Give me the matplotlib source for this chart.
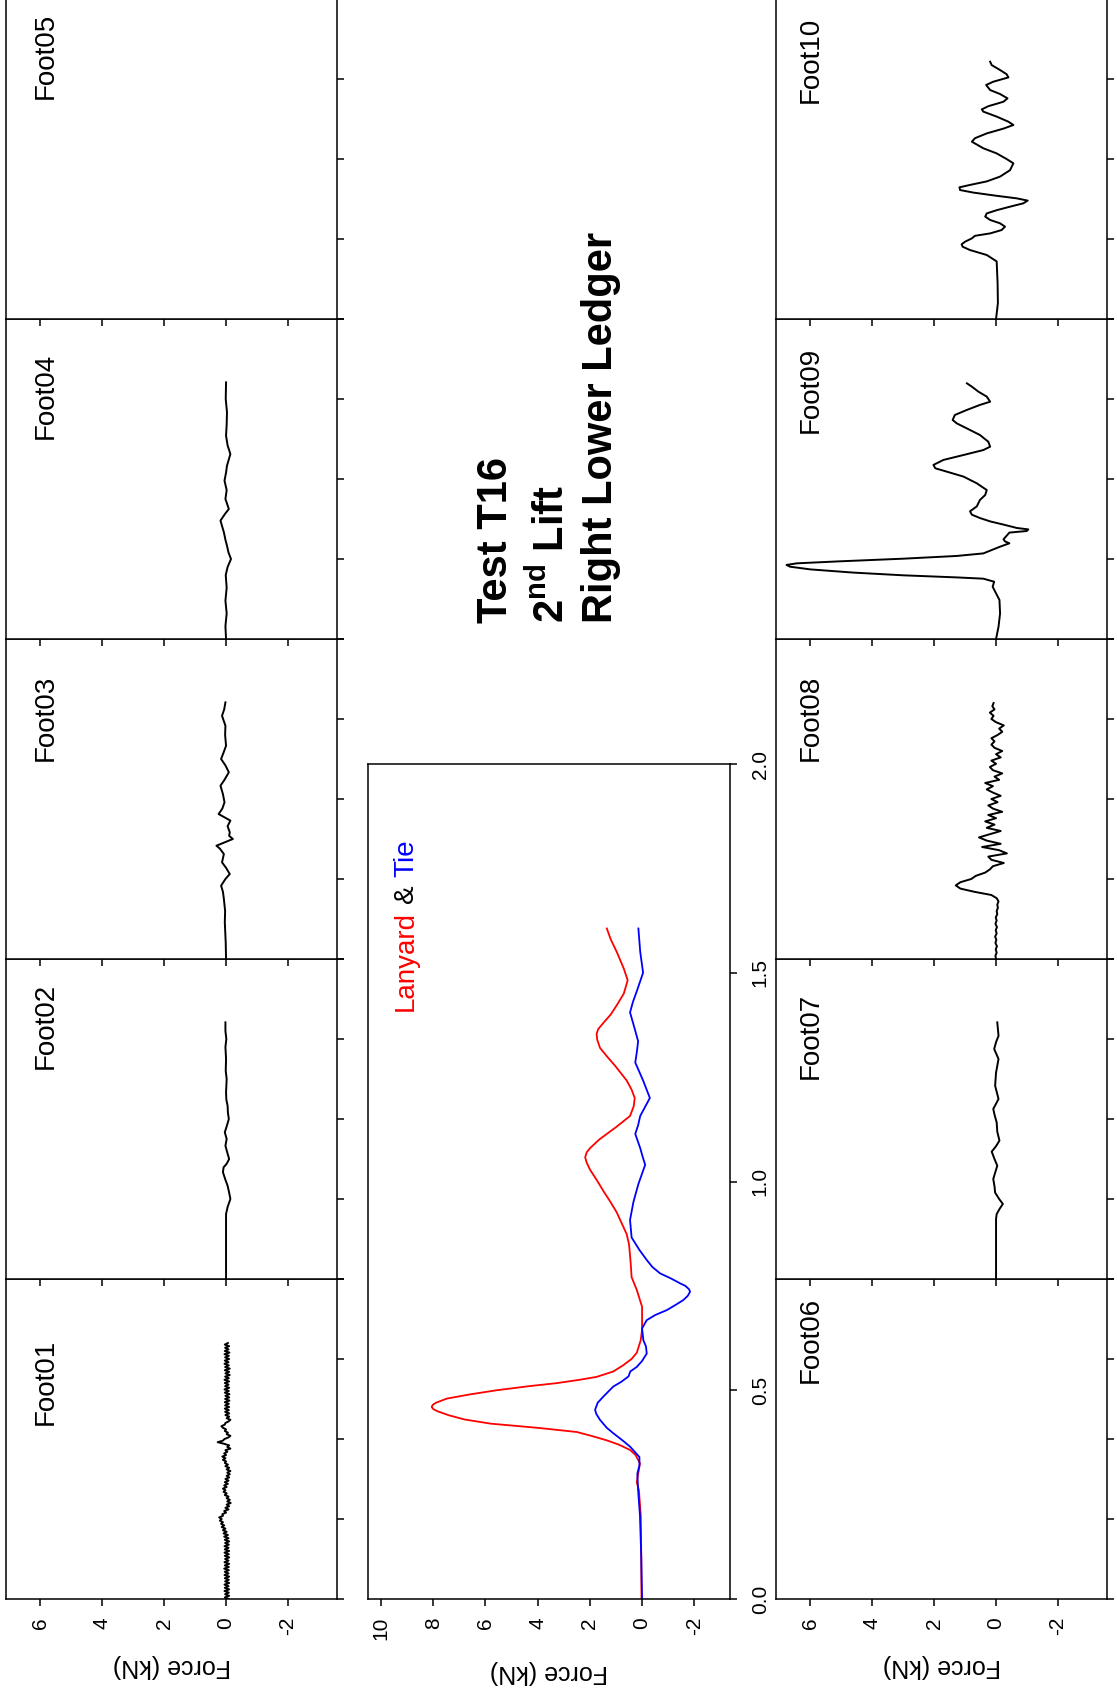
import numpy as np
import matplotlib
matplotlib.use("Agg")
from matplotlib import pyplot as plt

plt.rcParams['font.family'] = ['Liberation Sans', 'DejaVu Sans']
plt.rcParams['mathtext.fontset'] = 'custom'
plt.rcParams['mathtext.rm'] = 'Liberation Sans'
plt.rcParams['mathtext.bf'] = 'Liberation Sans:bold'

# ---- data (time in s, force in kN) ----
t01 = np.round(np.arange(161) * 0.01, 2)
f01 = [-0.08, 0.04, -0.10, 0.03, -0.09, 0.05, -0.10, 0.04, -0.08, 0.05,
       -0.10, 0.03, -0.09, 0.04, -0.10, 0.05, -0.08, 0.04, -0.09, 0.06,
       -0.09, 0.04, -0.10, 0.05, -0.08, 0.03, -0.10, 0.04, -0.09, 0.05,
       -0.10, 0.04, -0.08, 0.05, -0.09, 0.03, -0.10, 0.04, -0.08, 0.06,
       -0.06, 0.08, -0.02, 0.10, 0.02, 0.14, 0.06, 0.16, 0.10, 0.20,
       0.14, 0.22, 0.10, 0.12, 0.00, 0.06, -0.08, 0.02, -0.10, -0.02,
       -0.15, -0.04, -0.12, -0.02, -0.08, 0.04, -0.02, 0.08, 0.02, 0.10,
       -0.02, 0.06, -0.06, 0.04, -0.08, 0.02, -0.10, -0.02, -0.12, -0.04,
       -0.14, -0.02, -0.10, 0.02, -0.06, 0.04, 0.00, 0.10, 0.02, 0.12,
       0.00, 0.06, -0.04, 0.02, -0.14, -0.04, -0.10, 0.06, 0.27, 0.10,
       0.05, -0.08, -0.14, -0.02, -0.06, 0.04, 0.00, 0.10, 0.15, 0.04,
       0.02, -0.08, -0.14, -0.02, -0.10, 0.02, -0.10, 0.03, -0.09, 0.04,
       -0.10, 0.03, -0.09, 0.04, -0.11, 0.03, -0.10, 0.02, -0.11, 0.04,
       -0.09, 0.05, -0.10, 0.03, -0.08, 0.04, -0.10, 0.05, -0.09, 0.03,
       -0.12, 0.02, -0.10, 0.04, -0.12, 0.03, -0.09, 0.05, -0.08, 0.04,
       -0.10, 0.03, -0.09, 0.05, -0.11, 0.04, -0.08, 0.03, -0.10, 0.04,
       -0.06]

t02 = [0, 0.2, 0.406, 0.45, 0.5, 0.54, 0.583, 0.62, 0.667, 0.698, 0.72, 0.75, 0.79,
       0.833, 0.875, 0.917, 0.96, 1.0, 1.04, 1.083, 1.12, 1.167, 1.25, 1.3, 1.375,
       1.45, 1.5, 1.55, 1.604]
f02 = [0, 0.0, 0.0, -0.05, -0.14, -0.1, -0.05, 0.02, 0.1, 0.08, -0.02, -0.1, -0.04,
       0.02, -0.02, 0.04, -0.03, -0.09, -0.06, -0.05, -0.01, 0.0, -0.02, 0.01, 0.0,
       0.02, -0.01, 0.02, 0.02]

t03 = [0, 0.1, 0.229, 0.3, 0.375, 0.42, 0.458, 0.5, 0.531, 0.57, 0.604, 0.656, 0.69,
       0.708, 0.75, 0.77, 0.792, 0.83, 0.865, 0.906, 0.94, 0.979, 1.03, 1.083, 1.12,
       1.167, 1.21, 1.25, 1.29, 1.333, 1.4, 1.458, 1.52, 1.56, 1.604]
f03 = [0, 0.01, 0.04, 0.03, 0.07, 0.1, 0.16, 0.02, -0.12, 0.0, 0.13, 0.07, 0.2,
       0.31, -0.22, -0.1, -0.12, -0.05, -0.14, 0.24, 0.12, 0.05, 0.1, 0.18, 0.05,
       -0.09, 0.02, 0.16, 0.08, 0.0, 0.03, 0.02, 0.13, 0.06, 0.02]

t04 = [0, 0.08, 0.16, 0.24, 0.32, 0.4, 0.45, 0.5, 0.54, 0.583, 0.62, 0.667, 0.74,
       0.78, 0.8125, 0.875, 0.93, 0.99, 1.04, 1.083, 1.156, 1.21, 1.27, 1.34, 1.417,
       1.5, 1.604]
f04 = [0, 0.02, -0.02, 0.02, -0.02, 0.01, -0.05, -0.16, -0.08, -0.03, 0.02, 0.07, 0.18,
       0.04, -0.09, 0.02, -0.02, 0.05, 0.0, -0.03, -0.14, -0.05, 0.0, -0.02, -0.03,
       0.01, 0.0]

t05, f05 = [], []
t06, f06 = [], []

t07 = [0, 0.2, 0.375, 0.406, 0.44, 0.469, 0.5, 0.54, 0.58, 0.625, 0.67, 0.708, 0.75,
       0.796, 0.83, 0.865, 0.92, 0.979, 1.02, 1.0625, 1.125, 1.208, 1.29, 1.375,
       1.4375, 1.48, 1.52, 1.604]
f07 = [0, 0.0, 0.0, -0.02, -0.12, -0.22, -0.1, 0.03, 0.05, 0.09, 0.02, -0.04, 0.05,
       0.14, 0.0, -0.11, -0.04, -0.02, 0.04, 0.09, -0.08, 0.03, 0.0, -0.08,
       0.06, 0.0, -0.08, -0.04]

t08 = [0, 0.02, 0.04, 0.06, 0.08, 0.1, 0.12, 0.14, 0.16, 0.18, 0.2, 0.22, 0.24,
       0.26, 0.28, 0.3, 0.32, 0.34, 0.36, 0.38, 0.4, 0.42, 0.44, 0.46, 0.48, 0.5,
       0.52, 0.54, 0.56, 0.58, 0.6, 0.62, 0.64, 0.66, 0.68, 0.7, 0.72, 0.74, 0.76,
       0.78, 0.8, 0.82, 0.84, 0.86, 0.88, 0.9, 0.92, 0.94, 0.96, 0.98, 1.0, 1.02,
       1.04, 1.06, 1.08, 1.1, 1.12, 1.14, 1.16, 1.18, 1.2, 1.22, 1.24, 1.26, 1.28,
       1.3, 1.32, 1.34, 1.36, 1.38, 1.4, 1.42, 1.44, 1.46, 1.48, 1.5, 1.52, 1.54,
       1.56, 1.58, 1.6]
f08 = [0, 0.02, -0.02, 0.01, -0.03, 0.02, -0.01, 0.03, -0.02, 0.01,
       -0.03, 0.02, -0.02, 0.01, -0.04, -0.02, -0.06, -0.04, -0.08, -0.02,
       0.15, 0.7, 1.15, 1.3, 1.15, 0.8, 0.65, 0.35, 0.2, 0.1,
       -0.25, 0.15, 0.25, -0.35, -0.1, 0.45, -0.15, 0.3, 0.55, 0.2,
       -0.15, 0.3, 0.05, 0.35, 0.0, 0.25, -0.2, 0.1, 0.25, -0.05,
       0.15, -0.15, 0.1, 0.3, 0.1, 0.35, -0.1, 0.05, -0.2, 0.1,
       0.2, 0.0, 0.15, -0.15, 0.0, -0.2, 0.05, 0.15, 0.05, 0.15,
       -0.05, -0.2, -0.1, -0.25, 0.0, 0.15, 0.08, 0.2, 0.05, 0.12,
       0.08]

t09 = [0, 0.077, 0.160, 0.244, 0.285, 0.327, 0.358, 0.377, 0.385, 0.398, 0.415,
       0.435, 0.452, 0.463, 0.473, 0.485, 0.502, 0.519, 0.535, 0.556, 0.577,
       0.598, 0.610, 0.623, 0.665, 0.675, 0.685, 0.694, 0.715, 0.735, 0.756,
       0.777, 0.798, 0.829, 0.869, 0.900, 0.931, 0.973, 1.015, 1.046, 1.067,
       1.088, 1.119, 1.150, 1.181, 1.202, 1.233, 1.275, 1.317, 1.348, 1.369,
       1.400, 1.431, 1.463, 1.483, 1.515, 1.546, 1.577, 1.598]
f09 = [0, -0.08, -0.13, -0.11, 0.0, 0.11, 0.06, 0.41, 1.27, 2.99, 4.6,
       5.99, 6.65, 6.76, 6.42, 5.1, 2.99, 1.27, 0.41, 0.14, -0.13,
       -0.43, -0.29, -0.24, -0.43, -0.99, -1.04, -0.67, -0.24, 0.19, 0.52,
       0.78, 0.84, 0.62, 0.52, 0.35, 0.30, 0.62, 1.05, 1.59, 1.96,
       2.02, 1.70, 1.05, 0.41, 0.19, 0.25, 0.52, 0.95, 1.27, 1.40,
       1.33, 0.95, 0.52, 0.19, 0.30, 0.57, 0.78, 0.94]

t10 = [0, 0.1, 0.223, 0.36, 0.4, 0.431, 0.452, 0.467, 0.483, 0.504, 0.52, 0.535,
       0.556, 0.577, 0.598, 0.619, 0.64, 0.66, 0.68, 0.702, 0.723, 0.74, 0.754,
       0.77, 0.79, 0.806, 0.823, 0.838, 0.86, 0.89, 0.93, 0.973, 1.0, 1.035, 1.067,
       1.108, 1.13, 1.16, 1.19, 1.2125, 1.233, 1.265, 1.296, 1.31, 1.33, 1.358,
       1.379, 1.406, 1.431, 1.4625, 1.483, 1.51, 1.53, 1.556, 1.587, 1.608]
f10 = [0, -0.06, -0.05, -0.02, 0.30, 0.84, 1.08, 1.11, 1.0, 0.78, 0.68, 0.19,
       -0.18, -0.29, -0.13, 0.19, 0.35, 0.30, -0.02, -0.45, -0.88, -1.02, -0.67,
       -0.02, 0.73, 1.16, 1.18, 0.84, 0.30, -0.13, -0.45, -0.56, -0.34, -0.02, 0.41,
       0.78, 0.68, 0.30, -0.24, -0.56, -0.40, -0.02, 0.41, 0.46, 0.25, -0.24,
       -0.37, -0.13, 0.19, 0.32, 0.09, -0.40, -0.34, -0.13, 0.14, 0.19]

t_lan = [0, 0.1, 0.2, 0.26, 0.28, 0.3, 0.325, 0.345, 0.357, 0.37, 0.38, 0.39, 0.40,
         0.41, 0.42, 0.43, 0.44, 0.45, 0.455, 0.46, 0.465, 0.47, 0.48, 0.49, 0.50,
         0.51, 0.517, 0.525, 0.532, 0.545, 0.56, 0.575, 0.59, 0.62, 0.645, 0.70,
         0.74, 0.771, 0.80, 0.823, 0.85, 0.874, 0.90, 0.926, 0.95, 0.977, 1.0,
         1.028, 1.045, 1.058, 1.07, 1.08, 1.1, 1.114, 1.13, 1.157, 1.18, 1.2, 1.22,
         1.242, 1.277, 1.30, 1.32, 1.34, 1.354, 1.365, 1.38, 1.40, 1.422, 1.45,
         1.482, 1.51, 1.55, 1.58, 1.606]
f_lan = [0.02, 0.03, 0.05, 0.12, 0.2, 0.15, 0.08, 0.25, 0.46, 0.9, 1.35, 1.9, 2.5,
         4.0, 5.8, 6.8, 7.4, 7.85, 8.0, 8.06, 8.02, 7.9, 7.48, 6.6, 5.57,
         4.3, 3.27, 2.4, 1.74, 1.1, 0.72, 0.4, 0.2, 0.05, 0.0, 0.0,
         0.2, 0.4, 0.43, 0.46, 0.5, 0.59, 0.78, 0.97, 1.2, 1.48, 1.7,
         1.99, 2.12, 2.18, 2.12, 1.99, 1.65, 1.35, 1.0, 0.46, 0.32, 0.28, 0.4,
         0.59, 1.03, 1.35, 1.61, 1.72, 1.74, 1.68, 1.48, 1.2, 0.97, 0.7,
         0.55, 0.7, 0.97, 1.2, 1.35]

t_tie = [0, 0.1, 0.2, 0.26, 0.3, 0.32, 0.34, 0.365, 0.38, 0.397, 0.41, 0.429, 0.443,
         0.453, 0.47, 0.485, 0.509, 0.52, 0.533, 0.545, 0.556, 0.57, 0.588, 0.605,
         0.62, 0.648, 0.668, 0.68, 0.692, 0.705, 0.716, 0.726, 0.736, 0.742, 0.75,
         0.756, 0.768, 0.78, 0.795, 0.812, 0.836, 0.866, 0.908, 0.951, 0.994, 1.04,
         1.06, 1.08, 1.114, 1.135, 1.157, 1.2, 1.242, 1.285, 1.31, 1.336, 1.37,
         1.405, 1.43, 1.456, 1.5, 1.55, 1.606]
f_tie = [0.0, 0.03, 0.08, 0.15, 0.18, 0.1, 0.1, 0.46, 0.75, 1.1, 1.35, 1.61, 1.75,
         1.8, 1.7, 1.48, 1.1, 0.8, 0.52, 0.45, 0.2, 0.0, -0.18, -0.15,
         -0.05, 0.0, -0.18, -0.5, -0.95, -1.3, -1.58, -1.75, -1.84, -1.8, -1.66,
         -1.46, -1.1, -0.69, -0.4, -0.18, 0.1, 0.4, 0.46, 0.33, 0.14, -0.12,
         -0.02, 0.07, 0.26, 0.15, 0.07, -0.3, -0.04, 0.26, 0.2, 0.15, 0.3,
         0.46, 0.35, 0.2, -0.04, 0.07, 0.14]

foot_names = ['Foot01', 'Foot02', 'Foot03', 'Foot04', 'Foot05',
              'Foot06', 'Foot07', 'Foot08', 'Foot09', 'Foot10']
foot_t = [t01, t02, t03, t04, t05, t06, t07, t08, t09, t10]
foot_f = [f01, f02, f03, f04, f05, f06, f07, f08, f09, f10]
label_start = [1.09, 1.31, 1.24, 1.25, 1.375, 1.35, 1.25, 1.24, 1.29, 1.35]

foot_force_ticks = [6, 4, 2, 0, -2]
mid_force_ticks = [10, 8, 6, 4, 2, 0, -2]
time_ticks = [0.0, 0.5, 1.0, 1.5, 2.0]

# ---- layout in pixels of the 1117 x 1693 page ----
W, H = 1117, 1693
fig = plt.figure(figsize=(W / 100, H / 100), dpi=100)


def box(x0, y_top, x1, y_bot):
    return [x0 / W, 1 - y_bot / H, (x1 - x0) / W, (y_bot - y_top) / H]


def style_axes(ax, xticks, labels_on):
    for s in ax.spines.values():
        s.set_linewidth(1.1)
    ax.set_xticks(xticks)
    ax.set_xticklabels([str(v) for v in xticks], rotation=90)
    ax.set_yticks(time_ticks)
    ax.tick_params(axis='x', direction='out', length=5, width=1.1, pad=8,
                   labelsize=15, bottom=True, top=False, labelbottom=labels_on)
    ax.tick_params(axis='y', direction='out', length=5, width=1.1,
                   left=False, right=True, labelleft=False, labelright=False)


bottoms = [1599, 1279, 959, 639, 319]
cols = [(6, 337, 5.58), (776, 1107, 5.74)]

for i in range(10):
    c, r = divmod(i, 5)
    x0, x1, lab_f = cols[c]
    ax = fig.add_axes(box(x0, bottoms[r] - 320, x1, bottoms[r]))
    if len(foot_t[i]):
        ax.plot(foot_f[i], foot_t[i], color='black', lw=1.4)
    ax.set_xlim(7.1, -3.58)
    ax.set_ylim(0, 2.0)
    style_axes(ax, foot_force_ticks, r == 0)
    ax.text(lab_f, label_start[i], foot_names[i], fontsize=20, rotation=90,
            rotation_mode='anchor', ha='left', va='baseline')

# middle panel: lanyard and tie
axm = fig.add_axes(box(368, 764, 730, 1599))
axm.plot(f_lan, t_lan, color='#ff0000', lw=1.3)
axm.plot(f_tie, t_tie, color='#0000ff', lw=1.3)
axm.set_xlim(10.5, -3.37)
axm.set_ylim(0, 2.0)
style_axes(axm, mid_force_ticks, True)
axm.tick_params(axis='y', labelright=True, labelsize=15, pad=10)
axm.set_yticklabels(['%.1f' % v for v in time_ticks], rotation=90, ha='left', va='center')

# "Lanyard & Tie" in three colours, laid out like one string
fig.canvas.draw()
renderer = fig.canvas.get_renderer()


def text_width(s):
    tt = fig.text(0, 0, s, fontsize=20)
    w = tt.get_window_extent(renderer).width
    tt.remove()
    return w


ppu = axm.transData.transform((0, 1))[1] - axm.transData.transform((0, 0))[1]
t0, fpos = 1.409, 8.77
kw = dict(fontsize=20, rotation=90, rotation_mode='anchor', va='baseline')
axm.text(fpos, t0, 'Lanyard', color='#ff0000', ha='left', **kw)
axm.text(fpos, t0 + text_width('Lanyard &') / ppu, '&', color='black', ha='right', **kw)
axm.text(fpos, t0 + text_width('Lanyard & Tie') / ppu, 'Tie', color='#0000ff', ha='right', **kw)

# axis titles, upside down like the page
for xc, yc in [(171.5, 1666), (549, 1672), (941.5, 1666)]:
    fig.text(xc / W, 1 - yc / H, 'Force (kN)', fontsize=18, rotation=180,
             ha='center', va='center')

# heading
tkw = dict(fontsize=30, fontweight='bold', rotation=90, rotation_mode='anchor',
           ha='left', va='baseline')
fig.text(507 / W, 1 - 623 / H, 'Test T16', **tkw)
fig.text(564 / W, 1 - 623 / H, r'2$^{\mathbf{nd}}$ Lift', **tkw)
fig.text(612 / W, 1 - 623 / H, 'Right Lower Ledger', **tkw)

fig.savefig('out.png', dpi=100)
